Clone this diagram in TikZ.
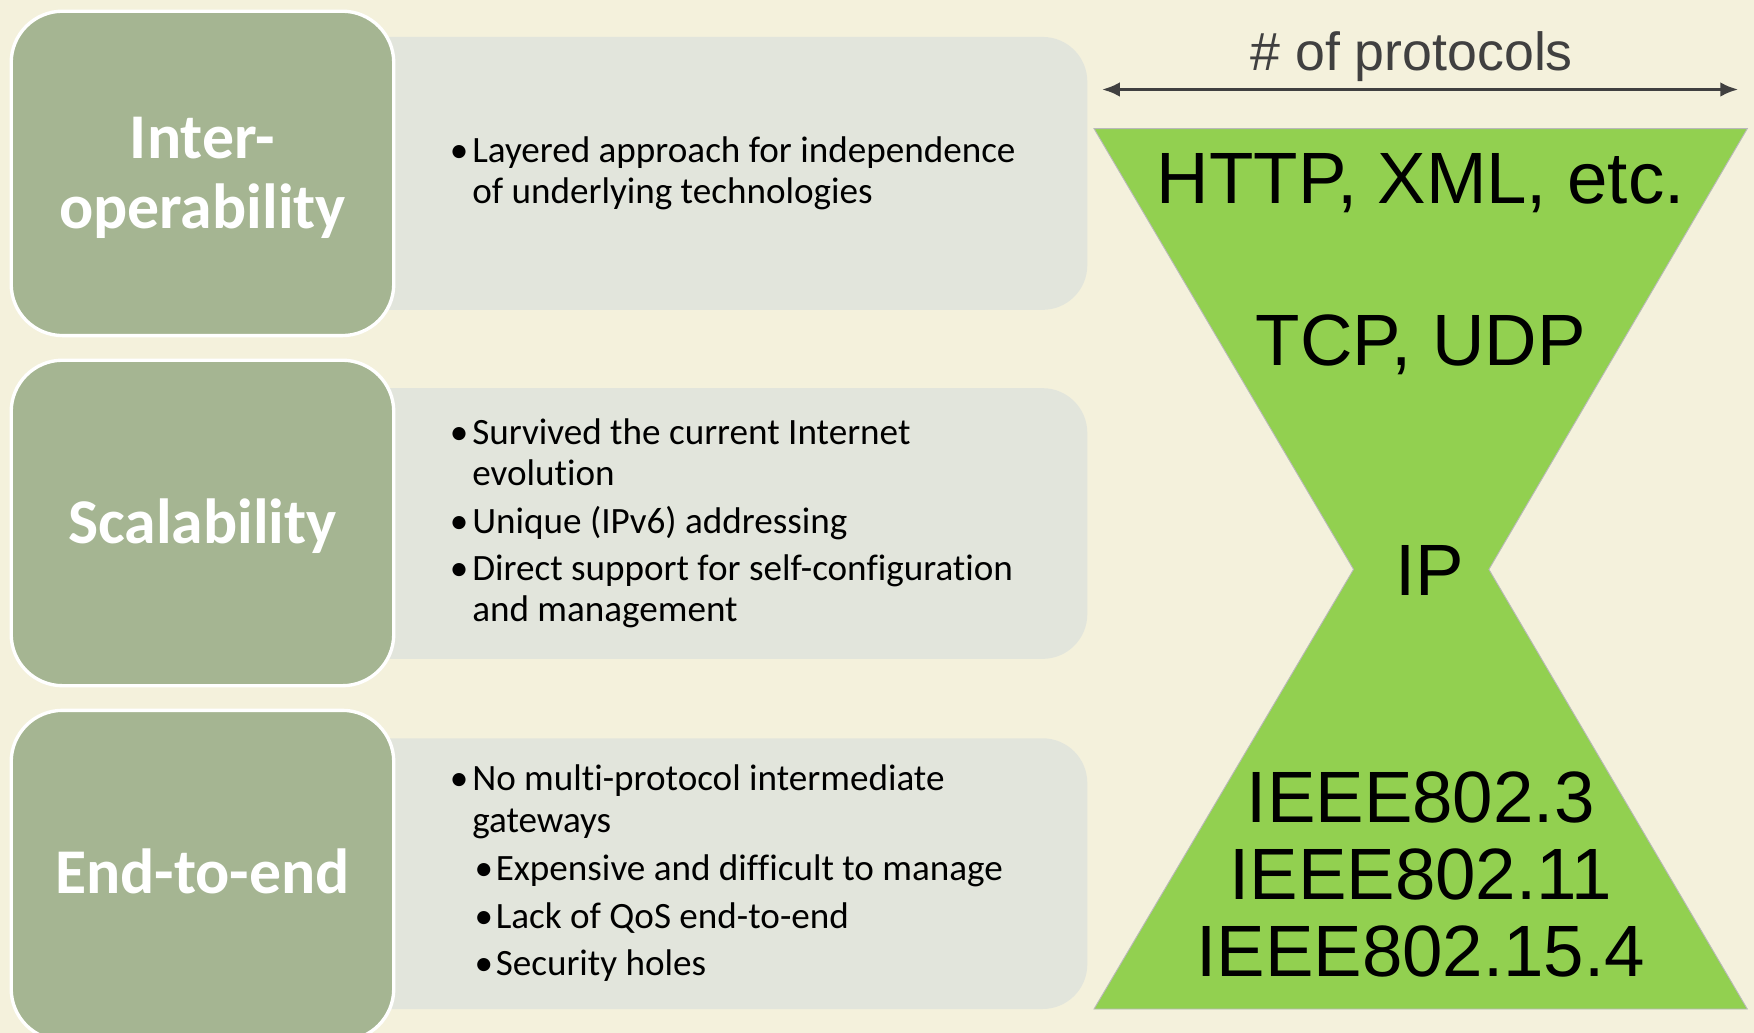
\documentclass[tikz,border=0pt]{standalone}
\usepackage{fontspec}
\setmainfont[Ligatures=NoCommon]{Carlito}
\newfontfamily\arialfont{Liberation Sans}
\usetikzlibrary{arrows.meta}
\definecolor{bgcream}{HTML}{F4F1DC}
\definecolor{sage}{HTML}{A5B592}
\definecolor{panel}{HTML}{E2E5DC}
\definecolor{hgreen}{HTML}{92D050}
\definecolor{arrowgray}{HTML}{404040}
\begin{document}
\begin{tikzpicture}[x=1pt,y=-1pt,
  titlebox/.style={fill=sage, draw=white, line width=3pt, rounded corners=46pt},
  panelbox/.style={fill=panel, rounded corners=40pt},
  titletext/.style={text=white, font=\fontsize{57}{63}\selectfont\bfseries, align=center, inner sep=0pt},
  bullettext/.style={anchor=base west, font=\fontsize{33.2}{37}\selectfont, inner sep=0pt, text=black},
  prototext/.style={anchor=base, font=\arialfont\fontsize{65}{71}\selectfont, inner sep=0pt, text=black},
  headtext/.style={anchor=base, font=\arialfont\fontsize{48}{54}\selectfont, inner sep=0pt, text=arrowgray},
  spanarrow/.style={{Latex[length=16pt,width=13pt]}-{Latex[length=16pt,width=13pt]}, line width=3pt, draw=arrowgray}
]
\useasboundingbox (0,0) rectangle (1568,923);
\clip (0,0) rectangle (1568,923);
\fill[bgcream] (0,0) rectangle (1568,923);

% light panels holding the bullet lists
\fill[panelbox] (300,33) rectangle (972,277);
\fill[panelbox] (300,347) rectangle (972,589);
\fill[panelbox] (300,660) rectangle (972,902);

% heading boxes
\draw[titlebox] (10,10) rectangle (352,300);
\draw[titlebox] (10,322) rectangle (352,613);
\draw[titlebox] (10,635) rectangle (352,930);

\node[titletext] (t1) at (181,159) {Inter-\\operability};
\node[titletext] (t2) at (181,470) {Scalability};
\node[titletext] (t3) at (181,779) {End-to-end};

% interoperability
\node[bullettext] (b11) at (402,145) {•};
\node[bullettext] (l11) at (422,145) {Layered approach for independence};
\node[bullettext] (l12) at (422,182) {of underlying technologies};

% scalability
\node[bullettext] (b21) at (402,397) {•};
\node[bullettext] (l21) at (422,397) {Survived the current Internet};
\node[bullettext] (l22) at (422,434) {evolution};
\node[bullettext] (b22) at (402,477) {•};
\node[bullettext] (l23) at (422,477) {Unique (IPv6) addressing};
\node[bullettext] (b23) at (402,519) {•};
\node[bullettext] (l24) at (422,519) {Direct support for self-configuration};
\node[bullettext] (l25) at (422,556) {and management};

% end-to-end
\node[bullettext] (b31) at (402,707) {•};
\node[bullettext] (l31) at (422,707) {No multi-protocol intermediate};
\node[bullettext] (l32) at (422,744) {gateways};
\node[bullettext] (b32) at (424,787) {•};
\node[bullettext] (l33) at (443,787) {Expensive and difficult to manage};
\node[bullettext] (b33) at (424,830) {•};
\node[bullettext] (l34) at (443,830) {Lack of QoS end-to-end};
\node[bullettext] (b34) at (424,872) {•};
\node[bullettext] (l35) at (443,872) {Security holes};

% protocol count span
\node[headtext] (head) at (1262,63) {\# of protocols};
\coordinate (spanL) at (985,80);
\coordinate (spanR) at (1554,80);
\draw[spanarrow] (spanL) -- (spanR);

% hourglass
\filldraw[fill=hgreen, draw=gray!55, line width=0.8pt]
  (978,115) -- (1562,115) -- (1331,509) -- (1562,902) -- (978,902) -- (1210,509) -- cycle;

\node[prototext] (p1) at (1270,182) {HTTP, XML, etc.};
\node[prototext] (p2) at (1270,327) {TCP, UDP};
\node[prototext] (p3) at (1278,532) {IP};
\node[prototext] (p4) at (1270,735) {IEEE802.3};
\node[prototext] (p5) at (1270,804) {IEEE802.11};
\node[prototext] (p6) at (1270,873) {IEEE802.15.4};
\end{tikzpicture}
\end{document}
